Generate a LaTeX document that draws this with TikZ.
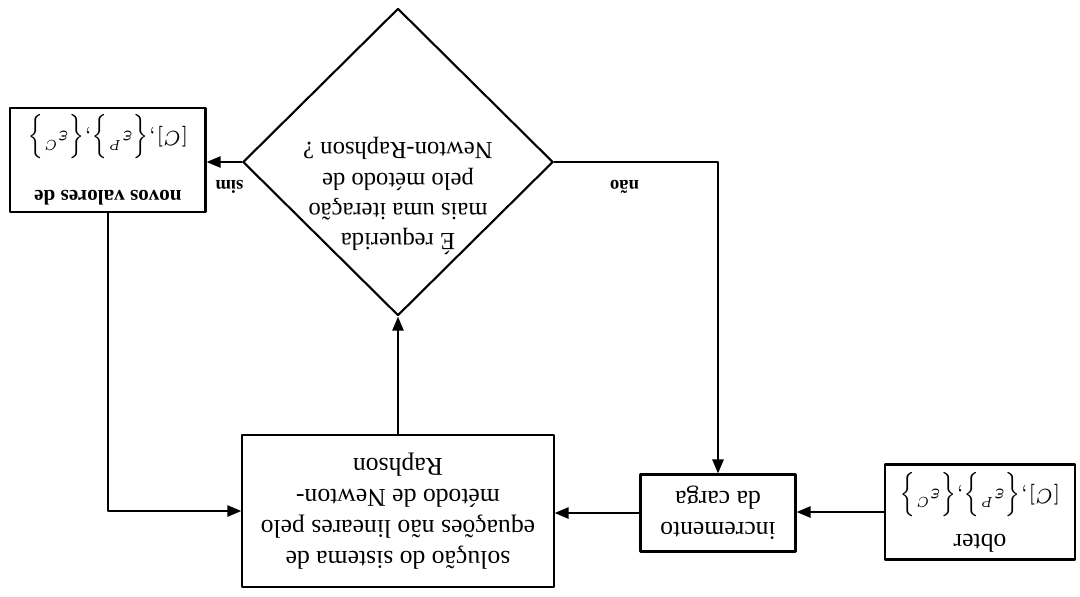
\RequirePackage{fix-cm}
\documentclass[tikz,border=0pt]{standalone}
\usepackage{exscale}
\usepackage{graphicx}
\usepackage{fontspec}
\setmainfont{Liberation Serif}
\usetikzlibrary{arrows.meta}
\usetikzlibrary{shapes.geometric}

\tikzset{
	caixa/.style={draw, line width=0.6pt, align=center, inner sep=2pt},
	decisao/.style={draw, diamond, line width=0.6pt, inner sep=0pt, minimum width=3.1cm, minimum height=3.07cm},
	seta/.style={->, line width=0.6pt},
	rotulo/.style={font=\fontsize{5.3}{6}\selectfont\bfseries, inner sep=5pt},
}
\newcommand{\valores}{\scalebox{0.82}[1]{\fontsize{5.9}{7}\selectfont$[C]{,}\Bigl\{\varepsilon^{P}\Bigr\}{,}\Bigl\{\varepsilon^{C}\Bigr\}$}}

\begin{document}
\begin{tikzpicture}[x=0.01cm, y=0.01cm, line cap=round, line join=round, >={Triangle[length=4pt,width=3.2pt]}, font=\fontsize{7.3}{8.8}\selectfont]
		\useasboundingbox (-1080,-596) rectangle (0,0);
		% the whole chart is printed upside down
		\begin{scope}[rotate=180, transform shape]
		% boxes
		\node [caixa, minimum width=1.9cm, minimum height=0.95cm] (obter) at (100,512) {obter\\[4pt] \valores};
		\node [caixa, minimum width=1.55cm, minimum height=0.77cm] (incremento) at (362,513) {incremento\\ da carga};
		\node [caixa, minimum width=3.11cm, minimum height=1.52cm] (solucao) at (682,511) {solução do sistema de\\ equações não lineares pelo\\ método de Newton-\\ Raphson};
		\node [decisao] (pergunta) at (682,162) {\raisebox{0.26cm}[0pt][0pt]{\fontsize{7}{8.6}\selectfont\begin{tabular}{@{}c@{}}É requerida\\ mais uma iteração\\ pelo método de\\ Newton-Raphson ?\end{tabular}}};
		\node [caixa, minimum width=1.95cm, minimum height=0.94cm] (novos) at (972,160) {{\fontsize{6}{7}\selectfont\bfseries novos valores de}\\[8pt] \valores};
		% arrows
		\draw [seta] (obter.east) -- (obter.east -| incremento.west);
		\draw [seta] (incremento.east) -- (incremento.east -| solucao.west);
		\draw [seta] (solucao) -- (pergunta);
		\draw [seta] (pergunta.east) -- node[pos=0.35, above, rotulo] {sim} (pergunta.east -| novos.west);
		\draw [seta] (pergunta.west) -| node[pos=0.215, above, rotulo] {não} (incremento.south);
		\draw [seta] (novos.north) |- (solucao.east);
		\end{scope}
	\end{tikzpicture}
\end{document}
